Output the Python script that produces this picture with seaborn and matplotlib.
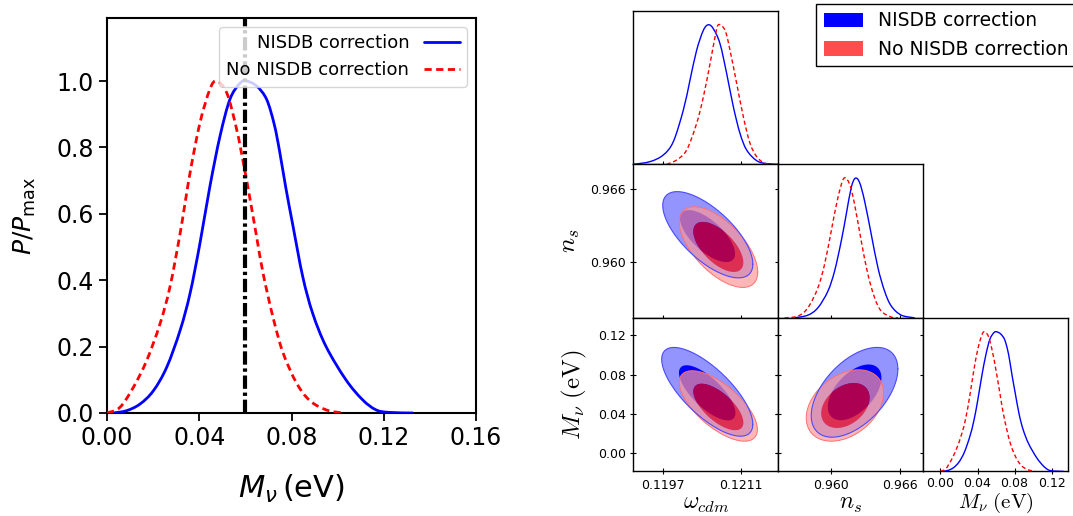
import numpy as np
import pandas as pd
import matplotlib
matplotlib.use("Agg")
import matplotlib.pyplot as plt
from matplotlib.path import Path
from matplotlib.patches import PathPatch, Patch
from matplotlib.lines import Line2D
import seaborn as sns

# ---------------- data ----------------
# Left panel / M_nu marginals: P/Pmax
MNU_BLUE_X = [0.0027, 0.0085, 0.0143, 0.0201, 0.0259, 0.0317, 0.0360, 0.0403, 0.0446,
              0.0490, 0.0533, 0.0576, 0.0605, 0.0649, 0.0692, 0.0725, 0.0748, 0.0775,
              0.0806, 0.0849, 0.0892, 0.0950, 0.1036, 0.1108, 0.1165, 0.1220, 0.1327]
MNU_BLUE_P = [0.000, 0.007, 0.027, 0.067, 0.138, 0.249, 0.360, 0.511, 0.682,
              0.834, 0.945, 0.993, 1.000, 0.985, 0.945, 0.870, 0.790, 0.680,
              0.565, 0.410, 0.300, 0.200, 0.100, 0.040, 0.010, 0.002, 0.000]
MNU_RED_X = [0.0000, 0.0056, 0.0114, 0.0172, 0.0230, 0.0273, 0.0317, 0.0360, 0.0403,
             0.0446, 0.0475, 0.0519, 0.0562, 0.0595, 0.0620, 0.0649, 0.0677, 0.0721,
             0.0764, 0.0822, 0.0880, 0.0952, 0.1024]
MNU_RED_P = [0.000, 0.017, 0.077, 0.158, 0.269, 0.380, 0.541, 0.723, 0.874,
             0.975, 1.000, 0.965, 0.855, 0.740, 0.645, 0.530, 0.420, 0.285,
             0.180, 0.090, 0.037, 0.009, 0.000]
MNU_FIDUCIAL = 0.06

# omega_cdm marginals
OMEGA_BLUE_X = [0.119160, 0.119460, 0.119700, 0.119880, 0.120060, 0.120180, 0.120300, 0.120421,
                0.120511, 0.120601, 0.120721, 0.120841, 0.120961, 0.121081, 0.121201, 0.121381,
                0.121561, 0.121772]
OMEGA_BLUE_P = [0.000, 0.019, 0.067, 0.162, 0.388, 0.602, 0.817, 0.960,
                1.000, 0.971, 0.864, 0.650, 0.412, 0.221, 0.102, 0.026,
                0.005, 0.000]
OMEGA_RED_X = [0.119760, 0.119940, 0.120120, 0.120300, 0.120421, 0.120541, 0.120631, 0.120691,
               0.120811, 0.120901, 0.121021, 0.121141, 0.121261, 0.121381, 0.121501, 0.121621]
OMEGA_RED_P = [0.000, 0.031, 0.102, 0.293, 0.483, 0.721, 0.912, 1.000,
               0.960, 0.817, 0.579, 0.340, 0.150, 0.055, 0.012, 0.000]

# n_s marginals
NS_BLUE_X = [0.956811, 0.957971, 0.958841, 0.959710, 0.960290, 0.960870, 0.961304, 0.961739,
             0.962087, 0.962464, 0.962899, 0.963478, 0.964058, 0.964638, 0.965218, 0.966087, 0.967246]
NS_BLUE_P = [0.000, 0.019, 0.072, 0.191, 0.335, 0.550, 0.742, 0.933,
             1.000, 0.969, 0.837, 0.598, 0.359, 0.191, 0.084, 0.019, 0.000]
NS_RED_X = [0.955942, 0.957101, 0.957971, 0.958841, 0.959420, 0.960000, 0.960580, 0.961101,
            0.961594, 0.962029, 0.962609, 0.963188, 0.963768, 0.964348, 0.965218, 0.965797]
NS_RED_P = [0.000, 0.012, 0.072, 0.215, 0.383, 0.622, 0.861, 1.000,
            0.957, 0.813, 0.550, 0.311, 0.144, 0.048, 0.005, 0.000]

# 2D credible regions, one entry per panel: (omega,ns), (omega,Mnu), (ns,Mnu)
# centre, half-extent in x, half-extent in y, correlation
BLUE95_CX = [0.120501, 0.120491, 0.962026]
BLUE95_CY = [0.962217, 0.06254, 0.06204]
BLUE95_AX = [0.000811, 0.000820, 0.003765]
BLUE95_BY = [0.003540, 0.04526, 0.04577]
BLUE95_RHO = [-0.68, -0.73, 0.52]
BLUE68_CX = [0.120496, 0.120490, 0.962030]
BLUE68_CY = [0.962108, 0.06150, 0.06200]
BLUE68_AX = [0.000496, 0.000508, 0.002330]
BLUE68_BY = [0.002132, 0.02810, 0.02840]
BLUE68_RHO = [-0.68, -0.73, 0.52]
RED95_CX = [0.120694, 0.120691, 0.961187]
RED95_CY = [0.961204, 0.04810, 0.04860]
RED95_AX = [0.000706, 0.000703, 0.003361]
RED95_BY = [0.003312, 0.03590, 0.03640]
RED95_RHO = [-0.62, -0.67, 0.35]
RED68_CX = [0.120690, 0.120691, 0.961230]
RED68_CY = [0.961217, 0.04709, 0.04860]
RED68_AX = [0.000450, 0.000450, 0.002100]
RED68_BY = [0.002052, 0.02369, 0.02290]
RED68_RHO = [-0.62, -0.67, 0.35]

LABEL_BLUE = "NISDB correction"
LABEL_RED = "No NISDB correction"
LEFT_XTICKS = [0.00, 0.04, 0.08, 0.12, 0.16]
LEFT_YTICKS = [0.0, 0.2, 0.4, 0.6, 0.8, 1.0]
OMEGA_TICKS = [0.1197, 0.1211]
NS_TICKS = [0.960, 0.966]
MNU_TICKS = [0.00, 0.04, 0.08, 0.12]
OMEGA_LIM = (0.11916, 0.12177)
NS_LIM = (0.9554, 0.9680)
MNU_LIM = (-0.0185, 0.138)

# ---------------- style ----------------
sns.set_style("ticks")
plt.rcParams["font.family"] = ["DejaVu Sans"]
plt.rcParams["axes.edgecolor"] = "black"
plt.rcParams["xtick.color"] = "black"
plt.rcParams["ytick.color"] = "black"
plt.rcParams["text.color"] = "black"
plt.rcParams["axes.labelcolor"] = "black"

W, H = 1073, 516
fig = plt.figure(figsize=(W / 100, H / 100), dpi=100)


def smooth_curve(ax, xs, ys, color, lw, ls="-", zorder=3):
    """Draw a smooth curve passing through the read points (Catmull-Rom as cubic Bezier)."""
    P = np.column_stack([xs, ys]).astype(float)
    n = len(P)
    verts = [P[0]]
    codes = [Path.MOVETO]
    for i in range(n - 1):
        p0 = P[i - 1] if i > 0 else P[i]
        p3 = P[i + 2] if i + 2 < n else P[i + 1]
        c1 = P[i] + (P[i + 1] - p0) / 6.0
        c2 = P[i + 1] - (p3 - P[i]) / 6.0
        verts += [c1, c2, P[i + 1]]
        codes += [Path.CURVE4] * 3
    patch = PathPatch(Path(verts, codes), fill=False, edgecolor=color, lw=lw,
                      linestyle=ls, zorder=zorder, capstyle="butt")
    ax.add_patch(patch)


# ---------------- left panel ----------------
axL = fig.add_axes([107 / W, 1 - 413 / H, 369 / W, 395 / H])
smooth_curve(axL, MNU_BLUE_X, MNU_BLUE_P, "#0000ff", 2)
smooth_curve(axL, MNU_RED_X, MNU_RED_P, "#ff0000", 2, ls=(0, (2.6, 1.6)))
axL.axvline(MNU_FIDUCIAL, color="black", lw=3, linestyle=(0, (3.2, 0.9, 0.8, 0.9)), zorder=4)
axL.set_xlim(0, 0.16)
axL.set_ylim(0, 1.19)
axL.set_xticks(LEFT_XTICKS)
axL.set_yticks(LEFT_YTICKS)
axL.set_xticklabels([f"{v:.2f}" for v in LEFT_XTICKS])
axL.set_yticklabels([f"{v:.1f}" for v in LEFT_YTICKS])
axL.tick_params(labelsize=17, length=6, width=1.3, direction="out")
for s in axL.spines.values():
    s.set_linewidth(1.5)
axL.set_xlabel(r"$M_\nu\,(\mathrm{eV})$", fontsize=22, labelpad=16)
axL.set_ylabel(r"$P/P_{\rm max}$", fontsize=18, labelpad=13)
left_handles = [Line2D([], [], color="#0000ff", lw=2, label=LABEL_BLUE),
                Line2D([], [], color="#ff0000", lw=2, ls=(0, (2.6, 1.6)), label=LABEL_RED)]
axL.legend(handles=left_handles, loc="upper right", fontsize=13, markerfirst=False)

# ---------------- triangle ----------------
col_w = 145 / W
row_h = 153.5 / H
lefts = [633.3 / W, 778.3 / W, 923.3 / W]
bottoms = [1 - 164.3 / H, 1 - 317.8 / H, 1 - 471.3 / H]


def tri_ax(r, c):
    a = fig.add_axes([lefts[c], bottoms[r], col_w, row_h])
    for s in a.spines.values():
        s.set_linewidth(1.0)
    a.tick_params(direction="inout", length=5, width=0.8, labelsize=9, pad=3)
    return a


def ellipse(cx, cy, ax_, by, rho, n=240):
    t = np.linspace(0, 2 * np.pi, n)
    x = cx + ax_ * np.cos(t)
    y = cy + by * (rho * np.cos(t) + np.sqrt(1 - rho ** 2) * np.sin(t))
    return np.column_stack([x, y])


def draw_2d(a, k):
    b95 = ellipse(BLUE95_CX[k], BLUE95_CY[k], BLUE95_AX[k], BLUE95_BY[k], BLUE95_RHO[k])
    b68 = ellipse(BLUE68_CX[k], BLUE68_CY[k], BLUE68_AX[k], BLUE68_BY[k], BLUE68_RHO[k])
    r95 = ellipse(RED95_CX[k], RED95_CY[k], RED95_AX[k], RED95_BY[k], RED95_RHO[k])
    r68 = ellipse(RED68_CX[k], RED68_CY[k], RED68_AX[k], RED68_BY[k], RED68_RHO[k])
    a.fill(b95[:, 0], b95[:, 1], color="#9494ff", lw=0, zorder=1)
    a.fill(b68[:, 0], b68[:, 1], color="#0000ff", lw=0, zorder=2)
    ring = Path.make_compound_path(Path(r95, closed=True), Path(r68[::-1], closed=True))
    a.add_patch(PathPatch(ring, facecolor="#ff9696", alpha=0.69, lw=0, zorder=3))
    a.fill(r68[:, 0], r68[:, 1], color="#ff0000", alpha=0.68, lw=0, zorder=4)
    a.plot(r95[:, 0], r95[:, 1], color="#ff7070", lw=0.7, zorder=5)
    a.plot(b95[:, 0], b95[:, 1], color="#4a4aff", lw=0.8, zorder=6)


def draw_1d(a, xb, pb, xr, pr):
    smooth_curve(a, xb, pb, "#0000ff", 1.0)
    smooth_curve(a, xr, pr, "#ff0000", 1.0, ls=(0, (3, 2)))
    a.set_ylim(0, 1.1)
    a.set_yticks([])
    a.tick_params(left=False)


CM = dict(math_fontfamily="cm")

# row 0: omega 1D
a00 = tri_ax(0, 0)
draw_1d(a00, OMEGA_BLUE_X, OMEGA_BLUE_P, OMEGA_RED_X, OMEGA_RED_P)
a00.set_xlim(*OMEGA_LIM)
a00.set_xticks(OMEGA_TICKS)
a00.set_xticklabels([])

# row 1
a10 = tri_ax(1, 0)
draw_2d(a10, 0)
a10.set_xlim(*OMEGA_LIM)
a10.set_ylim(*NS_LIM)
a10.set_xticks(OMEGA_TICKS)
a10.set_xticklabels([])
a10.set_yticks(NS_TICKS)
a10.set_yticklabels([f"{v:.3f}" for v in NS_TICKS])
a10.tick_params(right=True)
a10.set_ylabel(r"$n_s$", fontsize=18, labelpad=6, **CM)

a11 = tri_ax(1, 1)
draw_1d(a11, NS_BLUE_X, NS_BLUE_P, NS_RED_X, NS_RED_P)
a11.set_xlim(*NS_LIM)
a11.set_xticks(NS_TICKS)
a11.set_xticklabels([])

# row 2
a20 = tri_ax(2, 0)
draw_2d(a20, 1)
a20.set_xlim(*OMEGA_LIM)
a20.set_ylim(*MNU_LIM)
a20.set_xticks(OMEGA_TICKS)
a20.set_xticklabels([f"{v:.4f}" for v in OMEGA_TICKS])
a20.set_yticks(MNU_TICKS)
a20.set_yticklabels([f"{v:.2f}" for v in MNU_TICKS])
a20.tick_params(right=True)
a20.set_ylabel(r"$M_\nu\ (\mathrm{eV})$", fontsize=18, labelpad=6, **CM)
a20.set_xlabel(r"$\omega_{cdm}$", fontsize=17, labelpad=-1, **CM)

a21 = tri_ax(2, 1)
draw_2d(a21, 2)
a21.set_xlim(*NS_LIM)
a21.set_ylim(*MNU_LIM)
a21.set_xticks(NS_TICKS)
a21.set_xticklabels([f"{v:.3f}" for v in NS_TICKS])
a21.set_yticks(MNU_TICKS)
a21.set_yticklabels([])
a21.tick_params(right=True)
a21.set_xlabel(r"$n_s$", fontsize=17, labelpad=-1, **CM)

a22 = tri_ax(2, 2)
draw_1d(a22, MNU_BLUE_X, MNU_BLUE_P, MNU_RED_X, MNU_RED_P)
a22.set_xlim(*MNU_LIM)
a22.set_xticks(MNU_TICKS)
a22.set_xticklabels([f"{v:.2f}" for v in MNU_TICKS])
a22.tick_params(axis="x", pad=1.5)
a22.set_xlabel(r"$M_\nu\ (\mathrm{eV})$", fontsize=15, labelpad=0.5, **CM)

handles = [Patch(facecolor="#0000ff", edgecolor="none", label=LABEL_BLUE),
           Patch(facecolor="#ff4d4d", edgecolor="none", label=LABEL_RED)]
fig.legend(handles=handles, loc="upper right", bbox_to_anchor=(1076 / W, 1 - 4 / H),
           bbox_transform=fig.transFigure, fontsize=13.5, frameon=True, fancybox=False,
           edgecolor="black", framealpha=1, borderaxespad=0, handlelength=2.1,
           handleheight=0.8)

fig.savefig("out.png", dpi=100)
